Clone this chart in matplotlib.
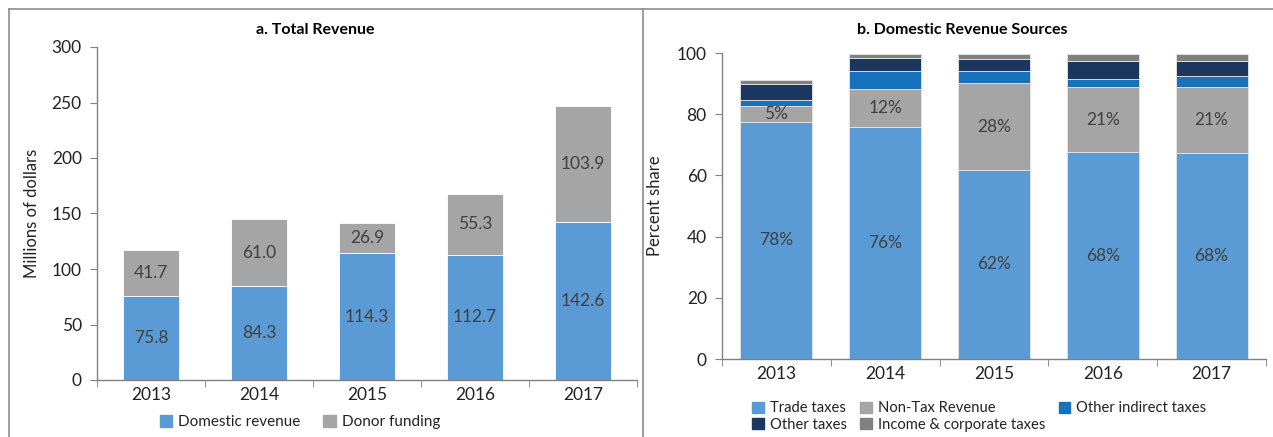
import matplotlib.pyplot as plt
from matplotlib.lines import Line2D
from matplotlib.patches import Patch

plt.rcParams['font.family'] = ['Lato', 'DejaVu Sans']

years = ['2013', '2014', '2015', '2016', '2017']

# panel a: millions of dollars
domestic = [75.8, 84.3, 114.3, 112.7, 142.6]
donor = [41.7, 61.0, 26.9, 55.3, 103.9]

# panel b: percent share of domestic revenue
trade = [77.5, 75.7, 61.8, 67.6, 67.3]
nontax = [5.2, 12.5, 28.3, 21.3, 21.6]
other_indirect = [2.1, 5.8, 4.0, 2.5, 3.5]
other_taxes = [5.2, 4.5, 4.0, 6.1, 5.1]
income_corp = [1.2, 1.1, 1.6, 2.2, 2.2]
trade_lbl = ['78%', '76%', '62%', '68%', '68%']
nontax_lbl = ['5%', '12%', '28%', '21%', '21%']

c_blue = '#5B9BD5'
c_gray = '#A5A5A5'
c_mid = '#1672BC'
c_navy = '#1B365F'
c_dgray = '#808080'
txt = '#404040'
axc = '#808080'

fig = plt.figure(figsize=(12.73, 4.37), dpi=100)
W, H = 1273, 437


def px(x0, y0, x1, y1):
    return [x0 / W, 1 - y1 / H, (x1 - x0) / W, (y1 - y0) / H]


def style(ax):
    for s in ['top', 'right']:
        ax.spines[s].set_visible(False)
    for s in ['left', 'bottom']:
        ax.spines[s].set_color(axc)
        ax.spines[s].set_linewidth(1)
    ax.set_xlim(-0.5, len(years) - 0.5)
    ax.set_xticks(range(len(years)))
    ax.set_xticklabels(years)
    ax.set_xticks([i - 0.5 for i in range(len(years) + 1)], minor=True)
    ax.tick_params(axis='x', which='major', length=0, pad=5, labelsize=12.5, labelcolor='#222222')
    ax.tick_params(axis='x', which='minor', length=5, color=axc, direction='out')
    ax.tick_params(axis='y', length=5, color=axc, labelsize=12.5, labelcolor='#222222', pad=6)


# frames around the panels
for xs, ys in [([9, 9], [437, 9]), ([9, 1273], [9, 9]), ([643, 643], [9, 437])]:
    fig.add_artist(Line2D([x / W for x in xs], [1 - y / H for y in ys],
                          color='#8c8c8c', lw=1.2))

# ---- panel a
ax1 = fig.add_axes(px(97, 47, 637, 380))
x = range(len(years))
ax1.bar(x, domestic, width=0.52, color=c_blue, edgecolor='white', linewidth=0.6)
ax1.bar(x, donor, width=0.52, bottom=domestic, color=c_gray, edgecolor='white', linewidth=0.6)
for i in x:
    ax1.text(i, domestic[i] / 2, f'{domestic[i]:.1f}', ha='center', va='center', fontsize=12.5, color=txt)
    ax1.text(i, domestic[i] + donor[i] / 2, f'{donor[i]:.1f}', ha='center', va='center', fontsize=12.5, color=txt)
ax1.set_ylim(0, 300)
ax1.set_yticks(range(0, 301, 50))
style(ax1)
ax1.set_ylabel('Millions of dollars', fontsize=12, color='#222222', labelpad=8)
fig.text(315 / W, 1 - 30 / H, 'a. Total Revenue', ha='center', va='center', fontsize=11.5, fontweight='bold')
fig.legend([Patch(color=c_blue), Patch(color=c_gray)], ['Domestic revenue', 'Donor funding'],
           loc='center', bbox_to_anchor=(300 / W, 1 - 422 / H), ncol=2, frameon=False,
           fontsize=11, handlelength=0.8, handleheight=0.8, handletextpad=0.4, columnspacing=1.5,
           labelcolor='#222222')

# ---- panel b
ax2 = fig.add_axes(px(722, 53, 1266, 359))
series = [trade, nontax, other_indirect, other_taxes, income_corp]
colors = [c_blue, c_gray, c_mid, c_navy, c_dgray]
names = ['Trade taxes', 'Non-Tax Revenue', 'Other indirect taxes', 'Other taxes', 'Income & corporate taxes']
bottom = [0] * len(years)
for vals, col in zip(series, colors):
    ax2.bar(x, vals, width=0.66, bottom=bottom, color=col, edgecolor='#e6e6e6', linewidth=0.6)
    bottom = [b + v for b, v in zip(bottom, vals)]
for i in x:
    ax2.text(i, trade[i] / 2, trade_lbl[i], ha='center', va='center', fontsize=12.5, color=txt)
    ax2.text(i, trade[i] + nontax[i] / 2, nontax_lbl[i], ha='center', va='center', fontsize=12.5, color=txt)
ax2.set_ylim(0, 100)
ax2.set_yticks(range(0, 101, 20))
style(ax2)
ax2.set_ylabel('Percent share', fontsize=12, color='#222222', labelpad=10)
fig.text(962 / W, 1 - 30 / H, 'b. Domestic Revenue Sources', ha='center', va='center',
         fontsize=11.5, fontweight='bold')
handles = [Patch(color=c) for c in colors]
order = [0, 3, 1, 4, 2]
fig.legend([handles[k] for k in order], [names[k] for k in order],
           loc='upper left', bbox_to_anchor=(745 / W, 1 - 394 / H), ncol=3, frameon=False,
           fontsize=10.6, handlelength=0.8, handleheight=0.8, handletextpad=0.4, columnspacing=0.9,
           labelspacing=0.15, borderpad=0, labelcolor='#222222')

fig.savefig('out.png', dpi=100)
